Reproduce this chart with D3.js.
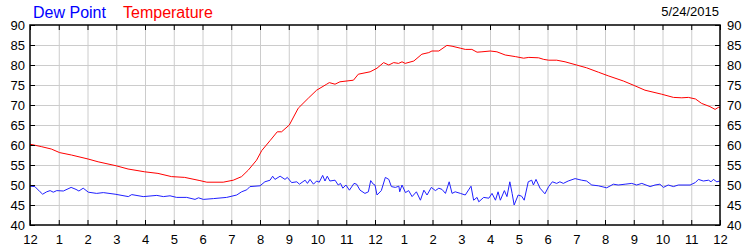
<!DOCTYPE html>
<html>
<head>
<style type="text/css">
	body{ margin:0; background:#fff; }
	svg text{ font-family: Arial, "Liberation Sans", sans-serif; }
	.axis path{ display:none; }
	.axis line{ stroke:#000; stroke-width:1; }
	.axis text{ font-size:13px; fill:#000; }
	.grid line{ stroke:#cccccc; stroke-width:1; }
	.grid path{ display:none; }
</style>
<title></title>
</head>
<body>
<div id="chart"></div>
<script src="https://d3js.org/d3.v7.min.js"></script>
<script type="text/javascript">
	// hour of day (0..24) , degrees F
	var tempData = [[0,60.2],[0.39,59.6],[0.74,59.0],[1.03,58.1],[1.44,57.5],[2.02,56.5],[2.37,55.8],[3.0,54.8],[3.41,54.0],[3.99,53.3],[4.45,52.9],[4.92,52.1],[5.38,51.9],[5.91,51.1],[6.15,50.7],[6.72,50.7],[7.07,51.2],[7.36,52.1],[7.59,53.7],[7.88,56.2],[8.06,58.6],[8.35,61.1],[8.6,63.3],[8.75,63.3],[9.02,65.0],[9.33,69.2],[9.68,71.7],[9.97,73.7],[10.32,75.2],[10.41,75.6],[10.61,75.2],[10.78,75.8],[11.25,76.2],[11.42,77.7],[11.83,78.3],[12.07,79.2],[12.3,80.6],[12.48,80.0],[12.65,80.6],[12.82,80.4],[12.94,80.8],[13.05,80.4],[13.35,81.0],[13.63,82.7],[13.87,83.1],[13.98,83.5],[14.22,83.5],[14.5,84.9],[14.68,84.7],[14.97,84.2],[15.14,83.9],[15.37,83.9],[15.55,83.2],[15.72,83.3],[16.01,83.5],[16.24,83.3],[16.53,82.5],[16.88,82.1],[17.17,81.7],[17.35,81.9],[17.69,81.8],[17.87,81.4],[18.04,81.2],[18.32,81.2],[18.61,80.8],[19.01,80.0],[19.36,79.3],[19.77,78.2],[20.11,77.3],[20.64,76.0],[21.04,74.8],[21.39,73.7],[21.97,72.7],[22.38,71.9],[22.67,71.8],[22.9,71.9],[23.15,71.5],[23.36,70.4],[23.65,69.6],[23.83,68.9],[23.94,69.4],[24,69.4]];

	var dewData = [[0,49.7],[0.17,49.6],[0.35,48.3],[0.44,47.7],[0.58,48.3],[0.7,48.6],[0.81,48.2],[0.93,48.6],[1.16,48.5],[1.43,49.4],[1.6,48.9],[1.7,48.5],[1.85,49.2],[2.03,48.2],[2.32,47.9],[2.55,48.1],[2.96,47.7],[3.42,47.1],[3.54,47.6],[3.94,47.1],[4.41,47.4],[4.64,47.1],[4.87,47.3],[5.1,46.9],[5.45,46.9],[5.74,46.4],[5.86,46.8],[6.03,46.4],[6.38,46.6],[6.84,46.9],[7.19,47.5],[7.36,48.3],[7.54,48.8],[7.65,49.6],[8.0,49.8],[8.17,50.8],[8.35,51.2],[8.44,52.2],[8.52,51.4],[8.7,52.2],[8.87,51.4],[8.95,51.9],[9.1,50.6],[9.28,50.8],[9.37,50.2],[9.57,51.2],[9.65,50.4],[9.74,51.4],[9.86,50.2],[9.97,51.0],[10.06,50.7],[10.18,52.4],[10.26,51.0],[10.34,52.2],[10.43,51.0],[10.61,51.2],[10.72,50.0],[10.8,50.4],[10.88,49.2],[10.99,50.0],[11.11,48.7],[11.27,50.4],[11.36,50.2],[11.48,48.7],[11.65,47.9],[11.77,48.3],[11.85,51.1],[11.94,50.2],[12.0,50.0],[12.07,47.5],[12.22,48.6],[12.36,51.9],[12.48,51.4],[12.57,49.6],[12.71,49.4],[12.83,49.7],[12.86,48.3],[12.94,50.0],[13.06,48.1],[13.17,48.6],[13.29,47.1],[13.44,48.3],[13.58,46.2],[13.7,48.7],[13.81,47.5],[13.96,49.4],[14.1,48.6],[14.22,49.2],[14.33,48.9],[14.45,47.9],[14.58,50.8],[14.68,47.9],[14.79,48.3],[14.97,47.9],[15.14,47.5],[15.34,49.7],[15.43,46.2],[15.55,46.9],[15.61,45.8],[15.78,46.9],[15.96,46.7],[16.07,47.9],[16.19,46.2],[16.28,48.3],[16.36,46.2],[16.5,48.6],[16.59,47.1],[16.69,50.8],[16.77,47.9],[16.84,45.0],[16.98,47.5],[17.1,47.2],[17.19,46.2],[17.33,50.8],[17.45,51.2],[17.51,50.0],[17.6,51.4],[17.74,49.2],[17.91,47.8],[18.04,49.6],[18.17,50.8],[18.32,50.4],[18.43,50.8],[18.55,50.4],[18.72,51.0],[18.96,51.6],[19.19,51.2],[19.36,51.0],[19.54,50.0],[19.77,49.8],[20.06,49.3],[20.29,50.2],[20.46,50.0],[20.7,50.2],[20.93,50.4],[21.1,50.0],[21.28,50.4],[21.57,49.6],[21.74,50.0],[21.91,50.2],[22.03,49.4],[22.2,50.0],[22.38,49.6],[22.55,50.0],[22.96,50.0],[23.14,50.6],[23.25,51.4],[23.42,51.0],[23.6,51.2],[23.69,50.8],[23.77,51.4],[23.89,50.8],[24,51.0]];

	var hourLabels = ["12","1","2","3","4","5","6","7","8","9","10","11","12","1","2","3","4","5","6","7","8","9","10","11","12"];
	var yTicks = [40,45,50,55,60,65,70,75,80,85,90];
	var dateLabel = "5/24/2015";

	var margin = {top:25, right:30, bottom:25, left:30},
		width = 750 - margin.left - margin.right,
		height = 250 - margin.top - margin.bottom;

	var x = d3.scaleLinear().domain([0, 24]).range([0, width]);
	var y = d3.scaleLinear().domain([40, 90]).range([height, 0]);
	var hours = d3.range(0, 25);

	var svg = d3.select("#chart").append("svg")
		.attr("width", 750)
		.attr("height", 250)
		.append("g")
		.attr("transform", "translate(" + margin.left + "," + margin.top + ")");

	//grid
	svg.append("g")
		.attr("class", "grid")
		.attr("transform", "translate(0," + height + ")")
		.call(d3.axisBottom(x).tickValues(hours.slice(1, 24)).tickSize(-height).tickFormat(""));
	svg.append("g")
		.attr("class", "grid")
		.call(d3.axisLeft(y).tickValues(yTicks.slice(1, 10)).tickSize(-width).tickFormat(""));

	//lines
	var line = d3.line()
		.x(function(d){ return x(d[0]); })
		.y(function(d){ return y(d[1]); });

	svg.append("path")
		.datum(dewData)
		.attr("d", line)
		.style("fill", "none")
		.style("stroke", "#2020ff")
		.style("stroke-width", 1);

	svg.append("path")
		.datum(tempData)
		.attr("d", line)
		.style("fill", "none")
		.style("stroke", "#ff0000")
		.style("stroke-width", 1);

	//frame
	svg.append("rect")
		.attr("width", width)
		.attr("height", height)
		.style("fill", "none")
		.style("stroke", "#000")
		.style("stroke-width", 1.5);

	//axes, ticks pointing inward
	svg.append("g")
		.attr("class", "axis")
		.attr("transform", "translate(0," + height + ")")
		.call(d3.axisBottom(x).tickValues(hours).tickSize(-5).tickPadding(10)
			.tickFormat(function(d, i){ return hourLabels[i]; }));

	svg.append("g")
		.attr("class", "axis")
		.call(d3.axisTop(x).tickValues(hours).tickSize(-5).tickFormat(""));

	svg.append("g")
		.attr("class", "axis")
		.call(d3.axisLeft(y).tickValues(yTicks).tickSize(-5).tickPadding(5));

	svg.append("g")
		.attr("class", "axis")
		.attr("transform", "translate(" + width + ",0)")
		.call(d3.axisRight(y).tickValues(yTicks).tickSize(-5).tickPadding(7));

	//legend
	var root = d3.select("#chart svg");
	root.append("text")
		.attr("x", 33)
		.attr("y", 18)
		.attr("font-size", "16px")
		.style("fill", "#0000ff")
		.text("Dew Point");
	root.append("text")
		.attr("x", 123)
		.attr("y", 18)
		.attr("font-size", "16px")
		.style("fill", "#ff0000")
		.text("Temperature");
	root.append("text")
		.attr("x", 719)
		.attr("y", 16)
		.attr("font-size", "13px")
		.attr("text-anchor", "end")
		.style("fill", "#000")
		.text(dateLabel);
</script>
</body>
</html>
